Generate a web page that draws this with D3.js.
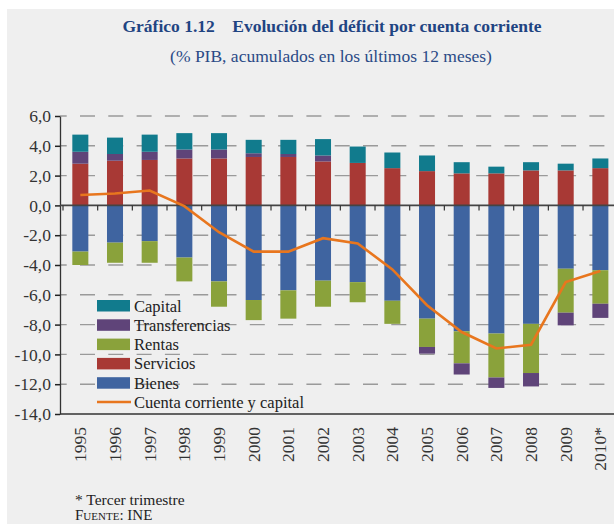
<!DOCTYPE html>
<html>
<head>
<meta charset="utf-8">
<style>
  body { margin: 0; background: #fff; }
  text { font-family: "Liberation Serif", "Times New Roman", Times, serif; }
</style>
</head>
<body>
<div id="viz"></div>
<script src="https://d3js.org/d3.v7.min.js"></script>
<script>
// valores (% PIB)
var years = ["1995","1996","1997","1998","1999","2000","2001","2002","2003","2004","2005","2006","2007","2008","2009","2010*"];
var bienes = [-3.1,-2.5,-2.4,-3.5,-5.1,-6.35,-5.7,-5.05,-5.15,-6.4,-7.6,-8.45,-8.6,-7.95,-4.25,-4.35];
var servicios = [2.8,3.0,3.05,3.15,3.15,3.25,3.25,2.95,2.85,2.5,2.3,2.15,2.15,2.35,2.35,2.5];
var rentas = [-0.9,-1.35,-1.45,-1.6,-1.7,-1.35,-1.9,-1.75,-1.35,-1.55,-1.9,-2.15,-2.95,-3.3,-2.95,-2.25];
var transferencias = [0.8,0.45,0.55,0.6,0.6,0.25,0.2,0.4,0,0,-0.45,-0.75,-0.7,-0.9,-0.85,-0.95];
var capital = [1.15,1.1,1.15,1.1,1.1,0.9,0.95,1.1,1.1,1.05,1.05,0.75,0.45,0.55,0.45,0.65];
var saldo = [0.7,0.8,1.0,-0.05,-1.8,-3.1,-3.1,-2.2,-2.55,-4.3,-6.7,-8.5,-9.6,-9.35,-5.15,-4.4];
var yTicks = [6,4,2,0,-2,-4,-6,-8,-10,-12,-14];

var colors = {
  capital: "#117b8d",
  transferencias: "#5f4479",
  rentas: "#8aa23b",
  servicios: "#a83935",
  bienes: "#3f64a0"
};
var serif = "'Liberation Serif', 'Times New Roman', Times, serif";

var svg = d3.select("#viz").append("svg")
  .attr("width", 614)
  .attr("height", 524);

svg.append("rect").attr("width", 614).attr("height", 524).attr("fill", "#fff");
svg.append("rect").attr("x", 7).attr("y", 9).attr("width", 607).attr("height", 515).attr("fill", "#efefef");

// titulos
svg.append("text")
  .attr("x", 332).attr("y", 32)
  .attr("text-anchor", "middle")
  .style("font-size", "17.5px").style("font-weight", "bold")
  .attr("fill", "#1f4482")
  .text("Gráfico 1.12\u00a0\u00a0\u00a0\u00a0Evolución del déficit por cuenta corriente");
svg.append("text")
  .attr("x", 331).attr("y", 62)
  .attr("text-anchor", "middle")
  .style("font-size", "17.5px")
  .attr("fill", "#2a4a86")
  .text("(% PIB, acumulados en los últimos 12 meses)");

var x = d3.scaleBand()
  .domain(years)
  .range([63, 617.7])
  .paddingInner(0.538)
  .paddingOuter(0.269);

var y = d3.scaleLinear()
  .domain([-14, 6])
  .range([414, 116]);

// lineas de cuadricula
svg.append("g").selectAll("line")
  .data(yTicks.filter(function(d) { return d != 0 && d != -14; }))
  .enter().append("line")
  .attr("x1", 60).attr("x2", 614)
  .attr("y1", function(d) { return y(d); })
  .attr("y2", function(d) { return y(d); })
  .attr("stroke", "#9a9a9a")
  .attr("stroke-width", 1.4)
  .attr("stroke-dasharray", "15,13.3")
  .attr("stroke-dashoffset", 8.3);

// barras apiladas
var rows = years.map(function(yr, i) {
  return {
    year: yr,
    servicios: servicios[i],
    bienes: bienes[i],
    rentas: rentas[i],
    transferencias: transferencias[i],
    capital: capital[i]
  };
});

var stack = d3.stack()
  .keys(["servicios", "bienes", "rentas", "transferencias", "capital"])
  .offset(d3.stackOffsetDiverging);

svg.append("g").selectAll("g")
  .data(stack(rows))
  .enter().append("g")
  .attr("fill", function(s) { return colors[s.key]; })
  .selectAll("rect")
  .data(function(s) { return s; })
  .enter().append("rect")
  .attr("x", function(d) { return x(d.data.year); })
  .attr("width", x.bandwidth())
  .attr("y", function(d) { return y(Math.max(d[0], d[1])); })
  .attr("height", function(d) { return Math.abs(y(d[0]) - y(d[1])); });

// eje y
var yAxis = svg.append("g")
  .attr("transform", "translate(60,0)")
  .call(d3.axisLeft(y)
    .tickValues(yTicks)
    .tickSize(5)
    .tickSizeOuter(0)
    .tickFormat(function(d) { return d3.format(".1f")(d).replace("\u2212", "-").replace(".", ","); }));
yAxis.attr("font-family", null);
yAxis.select(".domain").attr("stroke", "#333").attr("stroke-width", 1.3);
yAxis.selectAll(".tick line").attr("stroke", "#222").attr("stroke-width", 1.5);
yAxis.selectAll(".tick text")
  .attr("x", -9)
  .style("font-size", "17.5px")
  .style("font-family", serif)
  .attr("fill", "#333");

// linea del cero con marcas
svg.append("line")
  .attr("x1", 60).attr("x2", 614)
  .attr("y1", y(0)).attr("y2", y(0))
  .attr("stroke", "#444").attr("stroke-width", 1.6);
svg.append("g").selectAll("line")
  .data(years)
  .enter().append("line")
  .attr("x1", function(d) { return x(d) - (x.step() - x.bandwidth()) / 2; })
  .attr("x2", function(d) { return x(d) - (x.step() - x.bandwidth()) / 2; })
  .attr("y1", y(0)).attr("y2", y(0) + 5)
  .attr("stroke", "#333").attr("stroke-width", 1.2);

// eje inferior
svg.append("line")
  .attr("x1", 60).attr("x2", 614)
  .attr("y1", y(-14)).attr("y2", y(-14))
  .attr("stroke", "#333").attr("stroke-width", 1.6);

var xAxis = svg.append("g")
  .attr("transform", "translate(0," + y(-14) + ")")
  .call(d3.axisBottom(x).tickSize(0));
xAxis.attr("font-family", null);
xAxis.select(".domain").remove();
xAxis.selectAll(".tick text")
  .attr("transform", "rotate(-90)")
  .attr("text-anchor", "end")
  .attr("x", -13)
  .attr("y", 0)
  .attr("dy", "0.35em")
  .style("font-size", "17.5px")
  .style("font-family", serif)
  .attr("fill", "#333");

// cuenta corriente y capital
var line = d3.line()
  .x(function(d, i) { return x(years[i]) + x.bandwidth() / 2; })
  .y(function(d) { return y(d); });
svg.append("path")
  .datum(saldo)
  .attr("d", line)
  .attr("fill", "none")
  .attr("stroke", "#e8761e")
  .attr("stroke-width", 2.6);

// leyenda
var legendItems = [
  {name: "Capital", key: "capital"},
  {name: "Transferencias", key: "transferencias"},
  {name: "Rentas", key: "rentas"},
  {name: "Servicios", key: "servicios"},
  {name: "Bienes", key: "bienes"},
  {name: "Cuenta corriente y capital", key: "line"}
];
var legend = svg.append("g").attr("transform", "translate(97,300)");
legendItems.forEach(function(it, i) {
  var g = legend.append("g").attr("transform", "translate(0," + (i * 19.3) + ")");
  if (it.key == "line") {
    g.append("line").attr("x1", 0).attr("x2", 34).attr("y1", 5.5).attr("y2", 5.5)
      .attr("stroke", "#e8761e").attr("stroke-width", 2.6);
  } else {
    g.append("rect").attr("width", 33).attr("height", 11.5).attr("fill", colors[it.key]);
  }
  g.append("text")
    .attr("x", 37).attr("y", 11.5)
    .style("font-size", "16.5px")
    .attr("fill", "#222")
    .text(it.name);
});

// notas
svg.append("text")
  .attr("x", 75).attr("y", 505)
  .style("font-size", "15.5px")
  .attr("fill", "#222")
  .text("* Tercer trimestre");
svg.append("text")
  .attr("x", 75).attr("y", 520)
  .style("font-size", "15px")
  .style("font-variant", "small-caps")
  .attr("fill", "#222")
  .text("Fuente: INE");
</script>
</body>
</html>
